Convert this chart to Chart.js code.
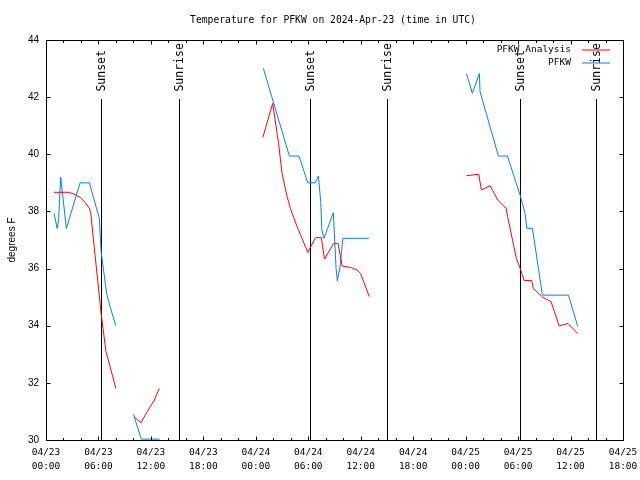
<!DOCTYPE html>
<html>
<head>
<meta charset="utf-8">
<title>Temperature for PFKW</title>
<script src="https://cdn.jsdelivr.net/npm/chart.js@4/dist/chart.umd.min.js"></script>
<style>
  body { margin: 0; background: #fff; }
</style>
</head>
<body>
<canvas id="tempChart" width="640" height="480"></canvas>
<script>
const TITLE = 'Temperature for PFKW on 2024-Apr-23 (time in UTC)';
const MONO = "'DejaVu Sans Mono', monospace";
const SANS = "'Liberation Sans', Arial, sans-serif";

// x is hours since 04/23 00:00 UTC, null temp = gap between runs
const tickDates = ['04/23','04/23','04/23','04/23','04/24','04/24','04/24','04/24','04/25','04/25','04/25','04/25'];
const tickTimes = ['00:00','06:00','12:00','18:00','00:00','06:00','12:00','18:00','00:00','06:00','12:00','18:00'];

const analysisHours = [
  0.92, 2.67, 3.32, 3.9, 4.47, 4.96, 5.12, 6.3, 6.86, 8.0,
  9,
  10.1, 10.85, 11.5, 12.4, 12.95,
  18,
  24.8, 25.93, 26.6, 27.0, 27.58, 27.96, 28.72, 29.95, 30.8, 31.5, 31.85, 32.9, 33.4, 33.88, 34.83, 35.6, 35.98, 36.98,
  42,
  48.1, 49.5, 49.8, 50.8, 51.67, 52.63, 52.8, 53.8, 54.24, 54.7, 55.55, 55.74, 56.8, 57.77, 58.7, 59.7, 60.8
];
const analysisTemps = [
  38.67, 38.67, 38.59, 38.49, 38.32, 38.11, 37.93, 34.44, 33.1, 31.8,
  null,
  30.81, 30.6, 30.95, 31.4, 31.8,
  null,
  40.59, 41.78, 40.38, 39.33, 38.52, 38.1, 37.47, 36.56, 37.08, 37.08, 36.33, 36.88, 36.88, 36.09, 36.04, 35.95, 35.83, 35.02,
  null,
  39.25, 39.3, 38.75, 38.9, 38.4, 38.11, 37.82, 36.36, 36.0, 35.58, 35.58, 35.31, 35.0, 34.84, 33.99, 34.08, 33.73
];

const obsHours = [
  0.92, 1.28, 1.45, 1.68, 2.33, 3.9, 4.96, 6.1, 6.3, 6.95, 7.33, 7.98,
  9,
  10.0, 10.9, 13.0,
  18,
  24.86, 27.84, 28.95, 29.94, 30.78, 31.16, 31.43, 31.55, 31.8, 32.87, 33.18, 33.33, 33.64, 33.95, 36.92,
  42,
  48.1, 48.77, 49.57, 49.65, 51.75, 52.78, 54.23, 54.8, 55.0, 55.64, 56.78, 59.76, 60.83
];
const obsTemps = [
  37.93, 37.4, 37.75, 39.2, 37.4, 39.0, 39.0, 37.76, 36.6, 35.1, 34.67, 34.0,
  null,
  30.9, 30.03, 30.03,
  null,
  43.01, 39.94, 39.94, 39.0, 39.0, 39.24, 38.31, 37.35, 37.06, 37.96, 36.0, 35.57, 36.07, 37.06, 37.06,
  null,
  42.83, 42.13, 42.83, 42.19, 39.94, 39.94, 38.57, 37.93, 37.41, 37.41, 35.07, 35.07, 33.97
];

const sunNames = ['Sunset','Sunrise','Sunset','Sunrise','Sunset','Sunrise'];
const sunHours = [6.29, 15.22, 30.2, 39.0, 54.23, 62.93];
const sunLineTop = 41.95; // degrees, where the marker lines stop

function toPoints(hours, temps) {
  return hours.map((h, i) => ({ x: h, y: temps[i] }));
}

function crisp(v) { return Math.round(v) + 0.5; }

// sunrise / sunset markers, under the data
const sunLines = {
  id: 'sunLines',
  beforeDatasetsDraw(chart) {
    const { ctx, chartArea: a, scales: { x, y } } = chart;
    const top = y.getPixelForValue(sunLineTop);
    ctx.save();
    ctx.strokeStyle = '#000';
    ctx.lineWidth = 1;
    ctx.fillStyle = '#000';
    ctx.font = '11.5px ' + MONO;
    ctx.textAlign = 'left';
    ctx.textBaseline = 'middle';
    sunHours.forEach((h, i) => {
      const px = crisp(x.getPixelForValue(h));
      ctx.beginPath();
      ctx.moveTo(px, a.bottom);
      ctx.lineTo(px, Math.round(top));
      ctx.stroke();
      ctx.save();
      ctx.translate(px + 1, top - 7);
      ctx.rotate(-Math.PI / 2);
      ctx.fillText(sunNames[i], 0, 0);
      ctx.restore();
    });
    ctx.restore();
  }
};

// gnuplot style frame with inward ticks, title and legend
const frame = {
  id: 'frame',
  afterDraw(chart) {
    const { ctx, chartArea: a, scales: { x, y } } = chart;
    ctx.save();
    ctx.strokeStyle = '#000';
    ctx.lineWidth = 1;
    const L = crisp(a.left), R = crisp(a.right), T = crisp(a.top), B = crisp(a.bottom);
    ctx.strokeRect(L, T, R - L, B - T);

    ctx.beginPath();
    for (let h = x.min; h <= x.max; h += 2) {
      const px = crisp(x.getPixelForValue(h));
      const len = h % 6 === 0 ? 4 : 2.5;
      ctx.moveTo(px, B); ctx.lineTo(px, B - len);
      ctx.moveTo(px, T); ctx.lineTo(px, T + len);
    }
    y.ticks.forEach(t => {
      const py = crisp(y.getPixelForValue(t.value));
      ctx.moveTo(L, py); ctx.lineTo(L + 4, py);
      ctx.moveTo(R, py); ctx.lineTo(R - 4, py);
    });
    ctx.stroke();

    ctx.fillStyle = '#000';
    ctx.font = '9.7px ' + MONO;
    ctx.textAlign = 'center';
    ctx.textBaseline = 'middle';
    ctx.fillText(TITLE, 333, 20);

    // legend: text then sample line, right side
    ctx.font = '9.5px ' + MONO;
    ctx.textAlign = 'right';
    chart.data.datasets.forEach((ds, i) => {
      const ly = 49.5 + i * 13;
      ctx.fillStyle = '#000';
      ctx.fillText(ds.label, a.right - 52, ly);
      ctx.strokeStyle = ds.borderColor;
      ctx.beginPath();
      ctx.moveTo(a.right - 41, ly + 0.5);
      ctx.lineTo(a.right - 13, ly + 0.5);
      ctx.stroke();
    });
    ctx.restore();
  }
};

Chart.defaults.color = '#000';

new Chart(document.getElementById('tempChart'), {
  type: 'line',
  data: {
    datasets: [
      {
        label: 'PFKW Analysis',
        data: toPoints(analysisHours, analysisTemps),
        borderColor: '#ff0000',
        borderWidth: 1,
        pointRadius: 0,
        tension: 0,
        spanGaps: false
      },
      {
        label: 'PFKW',
        data: toPoints(obsHours, obsTemps),
        borderColor: '#0080ff',
        borderWidth: 1,
        pointRadius: 0,
        tension: 0,
        spanGaps: false
      }
    ]
  },
  options: {
    responsive: false,
    animation: false,
    devicePixelRatio: 1,
    layout: { padding: { top: 40, right: 17, bottom: 0, left: 0 } },
    plugins: {
      legend: { display: false },
      tooltip: { enabled: false },
      title: { display: false }
    },
    scales: {
      x: {
        type: 'linear',
        min: 0,
        max: 66,
        grid: { display: false, drawTicks: false },
        border: { display: false },
        ticks: {
          stepSize: 6,
          maxRotation: 0,
          autoSkip: false,
          padding: 6,
          font: { family: MONO, size: 9.5, lineHeight: '14px' },
          callback: (v) => {
            const i = Math.round(v / 6);
            return [tickDates[i], tickTimes[i]];
          }
        },
        afterFit: (s) => {
          s.height = 40;
          s.paddingLeft = 0;
          s.paddingRight = 0;
        }
      },
      y: {
        min: 30,
        max: 44,
        grid: { display: false, drawTicks: false },
        border: { display: false },
        ticks: {
          stepSize: 2,
          padding: 7,
          font: { family: SANS, size: 10 }
        },
        title: {
          display: true,
          text: 'degrees F',
          padding: { top: 6, bottom: 0 },
          font: { family: SANS, size: 10 }
        },
        afterFit: (s) => { s.width = 46; }
      }
    }
  },
  plugins: [sunLines, frame]
});
</script>
</body>
</html>
